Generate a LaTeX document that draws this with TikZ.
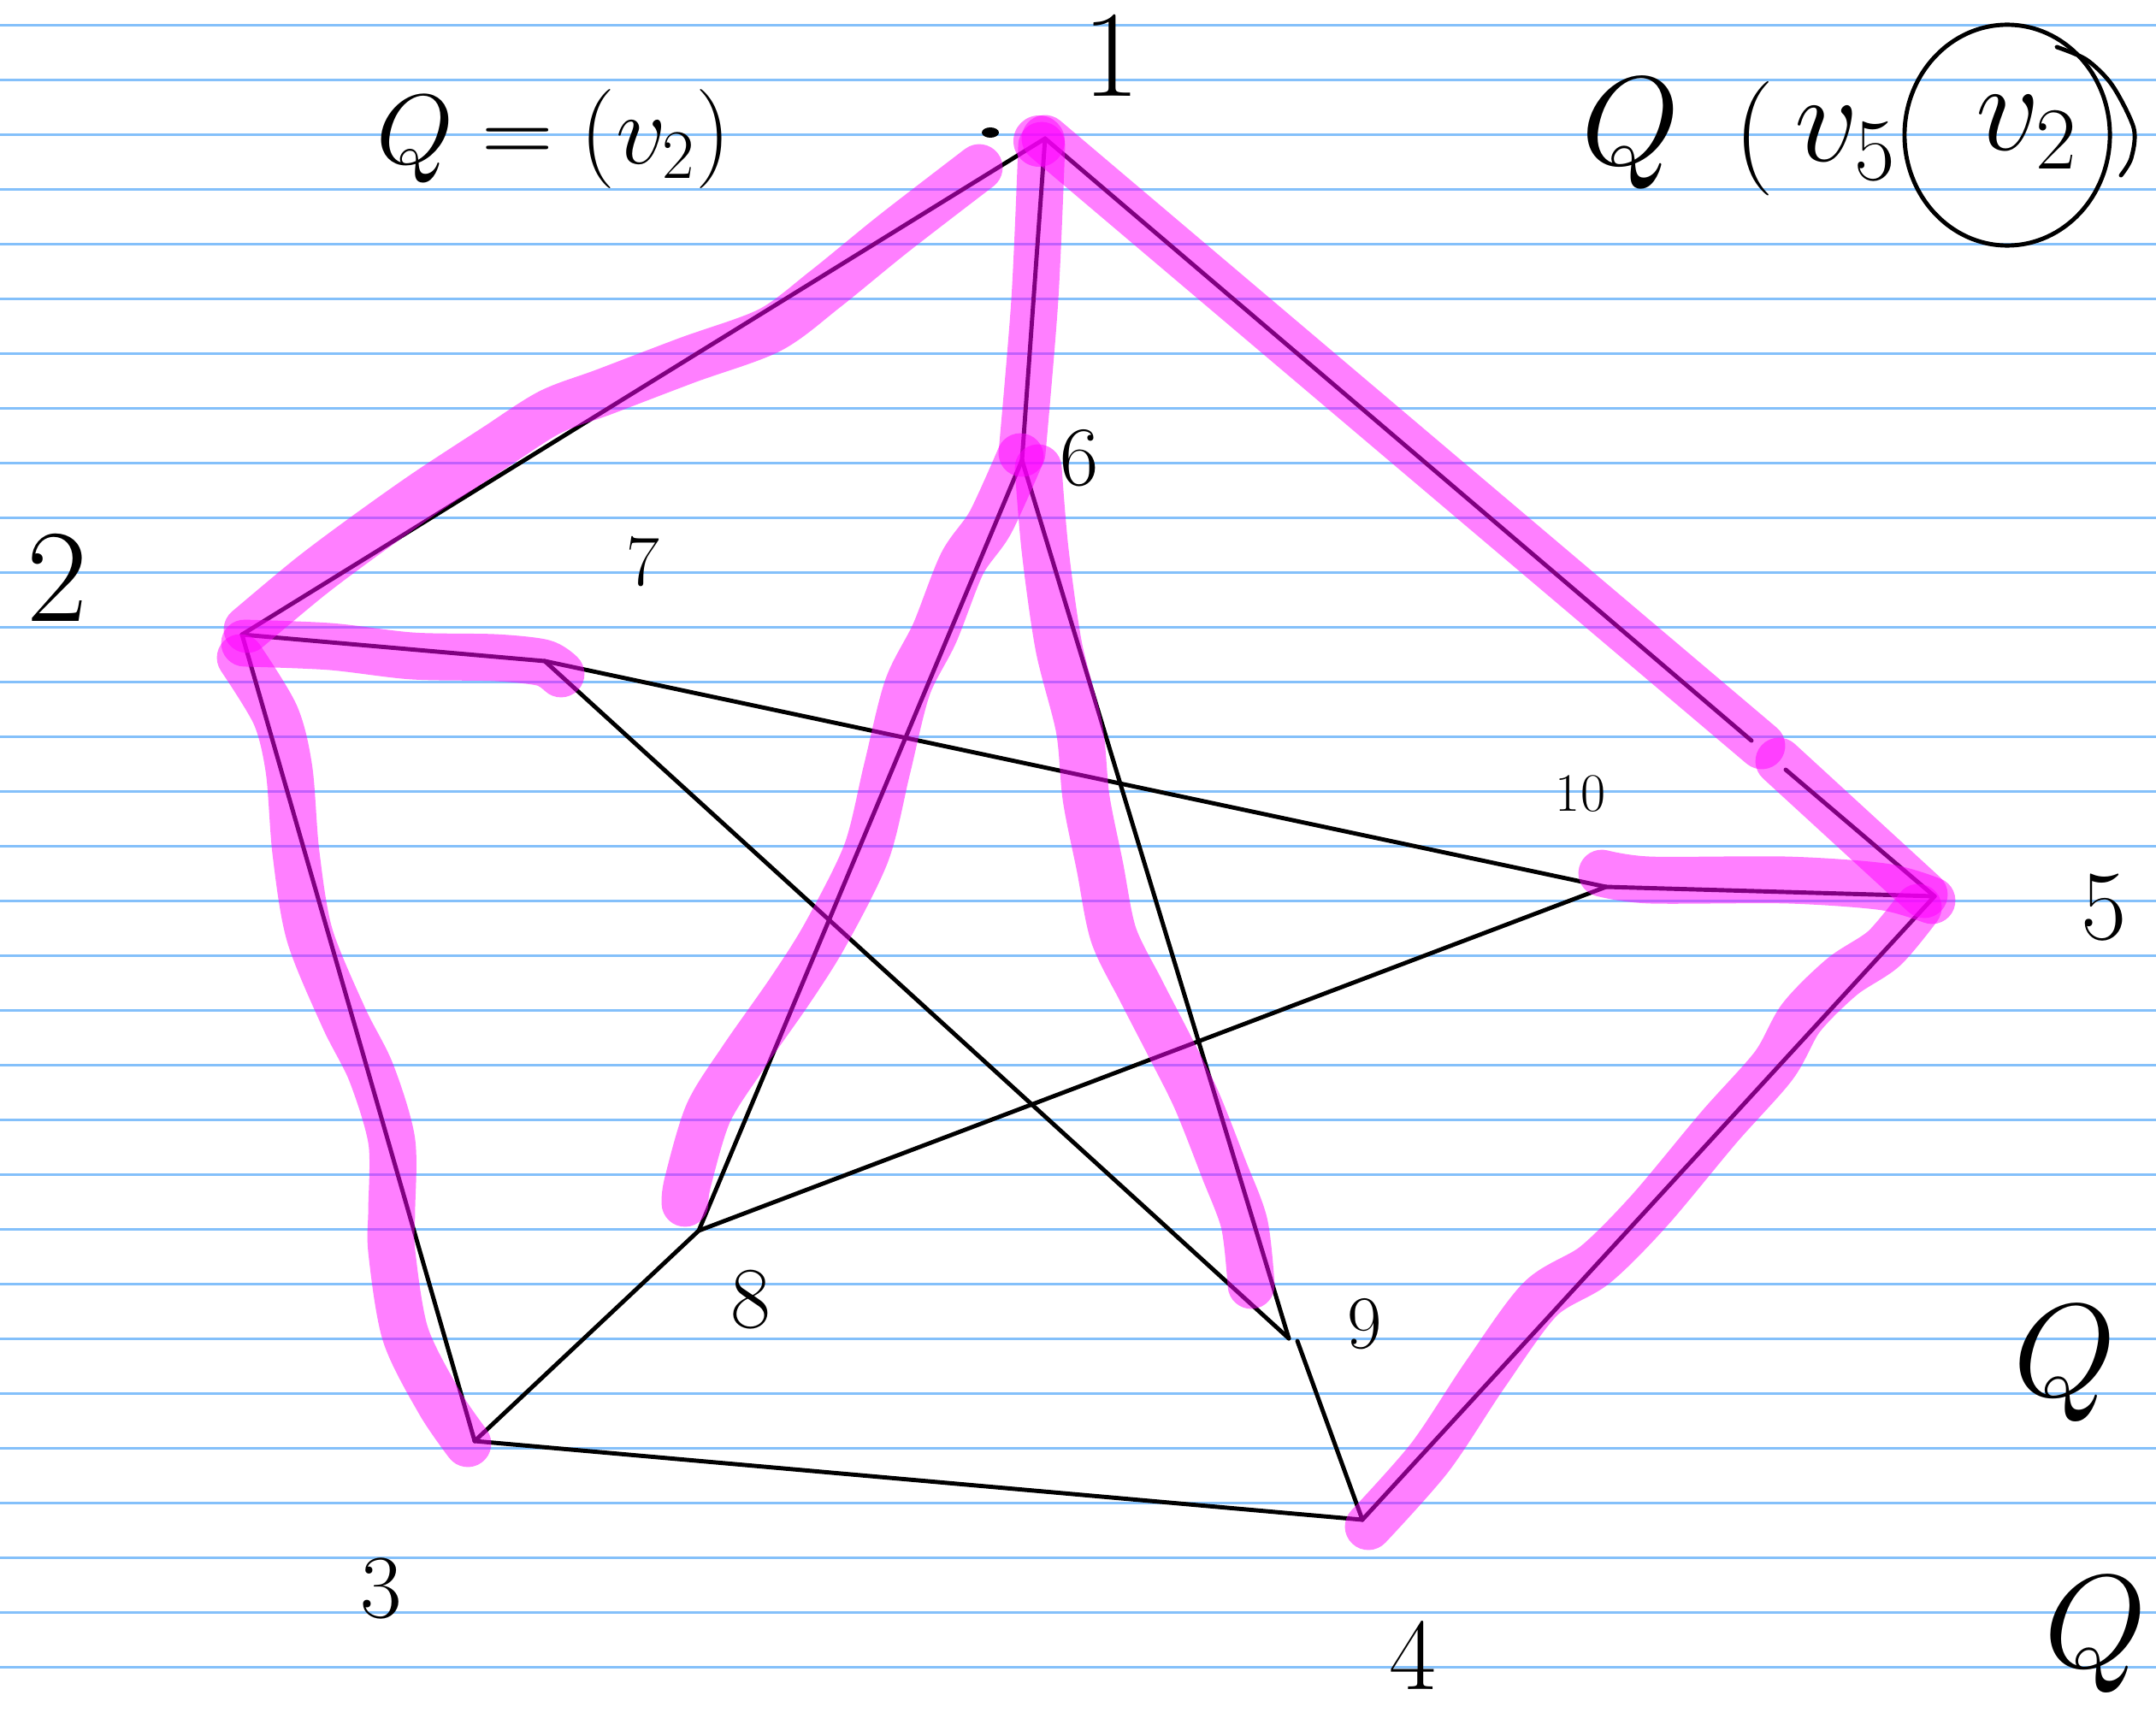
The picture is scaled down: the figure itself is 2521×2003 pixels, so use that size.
\RequirePackage{fix-cm}
\documentclass[tikz,border=0pt]{standalone}
\usepackage{amsmath}
\usetikzlibrary{positioning}
\definecolor{ruled}{RGB}{132,192,250}
\definecolor{hlpink}{RGB}{255,0,255}
\begin{document}
\begin{tikzpicture}[x=0.01cm, y=-0.01cm,
  e/.style={line width=1.4pt, line cap=round, line join=round},
  hl/.style={hlpink, draw opacity=0.5, line width=15.6pt, line cap=round, line join=round},
  lb/.style={inner sep=0pt, font=\fontsize{#1}{#1}\selectfont}]
  \useasboundingbox (0,0) rectangle (2521,2003);
  \fill[white] (0,0) rectangle (2521,2003);
  \foreach \k in {0,...,30} \draw[ruled, line width=0.8pt] (0,{29.3+64*\k}) -- (2521,{29.3+64*\k});
  % vertices
  \coordinate (v1) at (1222,162); \coordinate (v2) at (283,742); \coordinate (v3) at (555,1685);
  \coordinate (v4) at (1593,1777); \coordinate (v5) at (2262,1048); \coordinate (v6) at (1195,538);
  \coordinate (v7) at (637,773); \coordinate (v8) at (817,1439); \coordinate (v9) at (1507,1565);
  \coordinate (v10) at (1878,1037);
  \coordinate (g1) at (2048,866); \coordinate (g2) at (2088,900); \coordinate (g3) at (1517,1568);
  % labels
  \node[lb=41] (n1) at (1300,65) {1}; \node[lb=44] (n2) at (67,675) {2};
  \node[lb=30] (n3) at (446,1857) {3}; \node[lb=34] (n4) at (1652,1935) {4};
  \node[lb=33] (n5) at (2460,1061) {5}; \node[lb=28] (n6) at (1262,536) {6};
  \node[lb=24] (n7) at (752,657) {7}; \node[lb=29] (n8) at (878,1520) {8};
  \node[lb=25] (n9) at (1596,1548) {9}; \node[lb=18] (n10) at (1848,928) {10};
  \node[lb=33] (qa) at (648,162) {$Q=(v_2)$};
  \node[lb=42] (qb) at (1907,156) {$Q$};
  \node[lb=38] (qp) at (2051,162) {$($};
  \node[lb=42] (qv) at (2158,168) {$v_5$};
  \node[lb=42] (qc) at (2370,155) {$v_2$};
  \node[lb=44] (qd) at (2414,1595) {$Q$}; \node[lb=44] (qe) at (2450,1912) {$Q$};
  \draw[e] (2347,158) ellipse [x radius=1.2cm, y radius=1.29cm];
  \draw[e] plot[smooth] coordinates {(2405,55) (2440,70) (2470,100) (2495,150) (2492,185) (2480,205)};
  \fill (1158,155) ellipse [x radius=0.1cm, y radius=0.06cm];
  % edges
  \foreach \u/\v in {v1/v2,v1/v6,v2/v7,v2/v3,v3/v4,v3/v8,v4/v5,v6/v8,v6/v9,v7/v9,v7/v10,v8/v10,v10/v5}
    \draw[e] (\u) -- (\v);
  \draw[e] (v1) -- (g1); \draw[e] (g2) -- (v5); \draw[e] (v4) -- (g3);
  % highlights
  \draw[hl] plot[smooth] coordinates {(1145,196) (1045,273) (965,338) (900,386) (804,421) (707,458)
    (643,482) (579,523) (498,576) (426,627) (362,675) (289,736)};
  \draw[hl] plot[smooth] coordinates {(1218,170) (1210,350) (1195,530)};
  \draw[hl] (v1) -- (2060,872); \draw[hl] (2080,890) -- (2250,1046);
  \draw[hl] plot[smooth] coordinates {(286,752) (386,756) (482,767) (579,769) (635,775) (656,788)};
  \draw[hl] plot[smooth] coordinates {(281,769) (322,836) (338,900) (346,997) (362,1093) (402,1190)
    (434,1254) (458,1334) (458,1415) (458,1463) (474,1560) (514,1640) (547,1688)};
  \draw[hl] plot[smooth] coordinates {(1193,534) (1158,611) (1125,659) (1093,740) (1061,804) (1037,900)
    (1013,997) (965,1093) (924,1158) (868,1238) (828,1302) (804,1383) (801,1407)};
  \draw[hl] plot[smooth] coordinates {(1214,547) (1222,643) (1238,756) (1262,852) (1270,933) (1286,1013)
    (1302,1093) (1334,1158) (1367,1222) (1399,1286) (1431,1367) (1455,1431) (1463,1503)};
  \draw[hl] plot[smooth] coordinates {(1873,1021) (1929,1029) (2090,1029) (2203,1037) (2259,1053)};
  \draw[hl] plot[smooth] coordinates {(2243,1061) (2203,1109) (2154,1142) (2106,1190) (2074,1246) (2010,1318)
    (1929,1415) (1865,1479) (1801,1519) (1736,1608) (1672,1704) (1600,1785)};
  \fill[hlpink, fill opacity=0.5] (1215,165) circle [radius=0.3cm];
\end{tikzpicture}
\end{document}
